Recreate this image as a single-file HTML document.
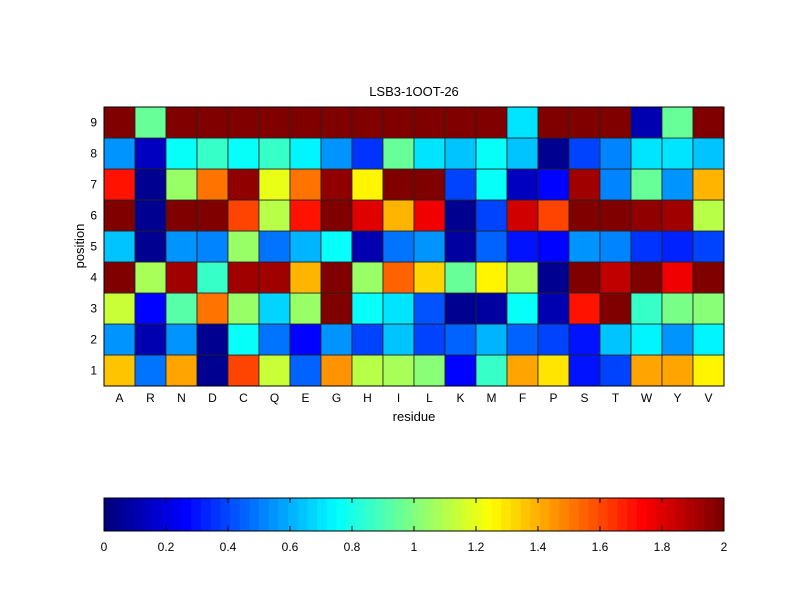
<!DOCTYPE html>
<html><head><meta charset="utf-8"><style>
html,body{margin:0;padding:0;background:#fff;}
svg text{font-family:"Liberation Sans",Arial,sans-serif;fill:#000;}
</style></head><body>
<svg id="chart" width="800" height="600" viewBox="0 0 800 600" xmlns="http://www.w3.org/2000/svg">
<rect width="800" height="600" fill="#fff"/>
<text x="414" y="96" font-size="13" text-anchor="middle">LSB3-1OOT-26</text>
<g id="cells"></g>
<g id="axes"></g>
<text x="414" y="421" font-size="13" text-anchor="middle">residue</text>
<text x="84" y="246" font-size="13" text-anchor="middle" transform="rotate(-90 84 246)">position</text>
<g id="cbar"></g>
</svg>
<script>
const residues=["A","R","N","D","C","Q","E","G","H","I","L","K","M","F","P","S","T","W","Y","V"];
const positions=[1,2,3,4,5,6,7,8,9];
const row1=[1.37,0.48,1.42,0.05,1.6,1.15,0.45,1.45,1.12,1.08,1.0,0.25,0.85,1.42,1.3,0.3,0.38,1.42,1.42,1.25];
const row2=[0.55,0.12,0.55,0.05,0.75,0.48,0.25,0.55,0.4,0.65,0.4,0.45,0.6,0.45,0.4,0.3,0.65,0.72,0.55,0.73];
const row3=[1.15,0.25,0.92,1.5,1.05,0.68,1.05,2,0.77,0.7,0.42,0.05,0.07,0.77,0.1,1.7,2,0.85,0.98,1.0];
const row4=[2,1.08,1.92,0.85,1.92,1.92,1.4,1.97,1.05,1.55,1.33,0.95,1.27,1.08,0.05,2,1.85,2,1.75,2];
const row5=[0.65,0.05,0.55,0.5,1.05,0.47,0.62,0.78,0.1,0.48,0.55,0.07,0.45,0.3,0.25,0.55,0.5,0.35,0.33,0.38];
const row6=[2,0.05,1.97,2,1.6,1.1,1.7,1.97,1.8,1.4,1.75,0.05,0.4,1.82,1.6,1.97,2,1.95,1.92,1.1];
const row7=[1.7,0.05,1.05,1.5,1.95,1.2,1.5,1.95,1.27,1.97,1.97,0.4,0.78,0.15,0.25,1.92,0.5,0.95,0.55,1.4];
const row8=[0.55,0.15,0.78,0.85,0.75,0.85,0.72,0.55,0.35,0.95,0.7,0.65,0.78,0.65,0.05,0.4,0.5,0.7,0.7,0.65];
const row9=[2,0.95,2,2,2,2,2,2,2,2,2,2,2,0.7,2,2,2,0.1,0.95,2];
const values=[row1,row2,row3,row4,row5,row6,row7,row8,row9];
const cbarTicks=[0,0.2,0.4,0.6,0.8,1,1.2,1.4,1.6,1.8,2];
const vmin=0,vmax=2;

const L=104,R=724,T=107,B=386;
const NS="http://www.w3.org/2000/svg";
function xS(i){return L+(R-L)*i/residues.length;}
function yS(j){return B-(B-T)*j/positions.length;}
function jet(v){
  let t=Math.max(0,Math.min(1,(v-vmin)/(vmax-vmin)));
  t=Math.min(63,Math.floor(t*64))/63;
  const f=x=>Math.max(0,Math.min(1,x));
  const r=f(Math.min(4*t-1.5,-4*t+4.5)),g=f(Math.min(4*t-0.5,-4*t+3.5)),b=f(Math.min(4*t+0.5,-4*t+2.5));
  return `rgb(${Math.round(r*255)},${Math.round(g*255)},${Math.round(b*255)})`;
}
function mk(tag,attrs,parent){const e=document.createElementNS(NS,tag);for(const k in attrs)e.setAttribute(k,attrs[k]);parent.appendChild(e);return e;}
const cells=document.getElementById('cells');
values.forEach((row,j)=>row.forEach((v,i)=>{
  const r=mk('rect',{x:xS(i),y:yS(j+1),width:xS(i+1)-xS(i),height:yS(j)-yS(j+1),fill:jet(v),stroke:'#222','stroke-width':0.8},cells);
  
  
}));
const axes=document.getElementById('axes');
const frame=mk('rect',{x:L,y:T,width:R-L,height:B-T,fill:'none',stroke:'#000','stroke-width':1},axes);


residues.forEach((r,i)=>{
  const cx=(xS(i)+xS(i+1))/2;
  const t=mk('text',{x:cx,y:402,'font-size':12,'text-anchor':'middle'},axes);t.textContent=r;
  
  
});
positions.forEach((p,j)=>{
  const cy=(yS(j)+yS(j+1))/2;
  const t=mk('text',{x:97,y:cy+4,'font-size':12,'text-anchor':'end'},axes);t.textContent=p;
  
  
});
// colorbar
const cb=document.getElementById('cbar');
const CL=104,CR=724,CT=498,CB=531;
function cx(v){return CL+(CR-CL)*(v-vmin)/(vmax-vmin);}
for(let k=0;k<64;k++){
  const v0=vmin+(vmax-vmin)*k/64,v1=vmin+(vmax-vmin)*(k+1)/64;
  const r=mk('rect',{x:cx(v0),y:CT,width:cx(v1)-cx(v0)+0.5,height:CB-CT,fill:jet((v0+v1)/2)},cb);
  
  
}
const cf=mk('rect',{x:CL,y:CT,width:CR-CL,height:CB-CT,fill:'none',stroke:'#000','stroke-width':1},cb);


cbarTicks.forEach(v=>{
  const x=cx(v);
  mk('line',{x1:x,x2:x,y1:CB,y2:CB-5,stroke:'#000','stroke-width':1},cb);
  mk('line',{x1:x,x2:x,y1:CT,y2:CT+5,stroke:'#000','stroke-width':1},cb);
  const t=mk('text',{x:x,y:551,'font-size':12,'text-anchor':'middle'},cb);t.textContent=String(v);
  
  
});
</script>
</body></html>
